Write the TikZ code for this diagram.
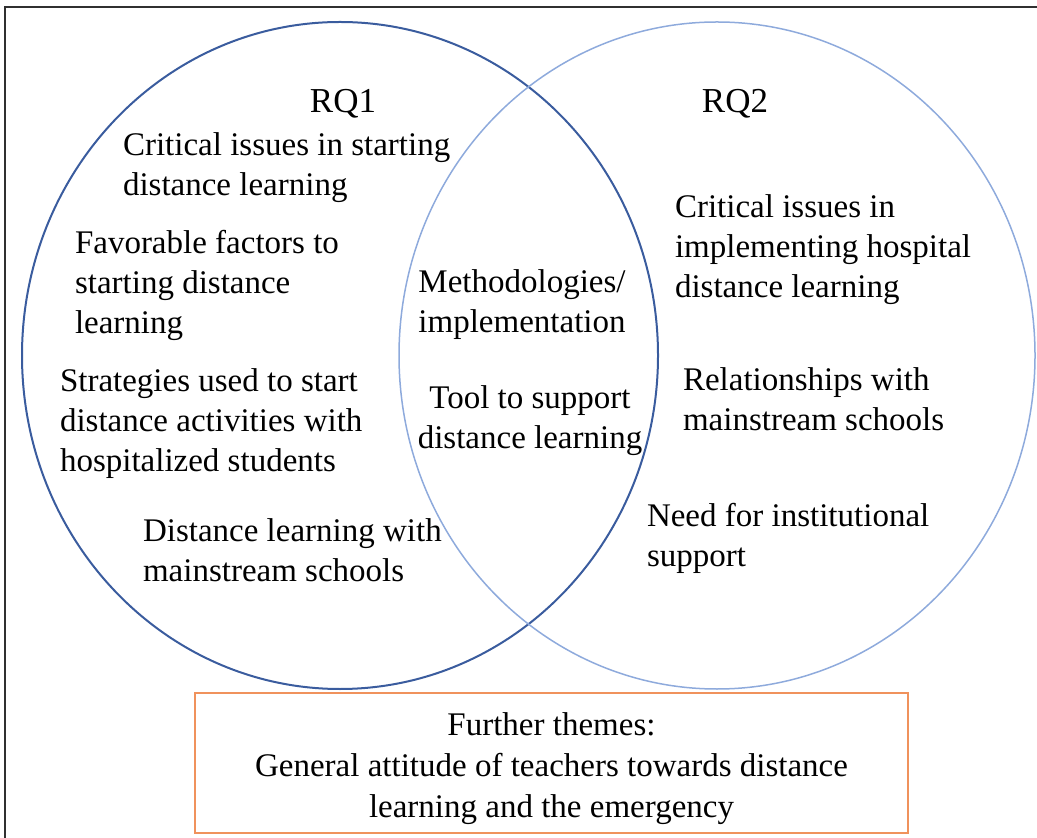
\documentclass[tikz,border=0pt]{standalone}
\usepackage{fontspec}
\setmainfont{Liberation Serif}
\definecolor{rqonecol}{HTML}{3A5C9E}
\definecolor{rqtwocol}{HTML}{8EAADC}
\definecolor{boxcol}{HTML}{F0925C}
\definecolor{framecol}{HTML}{303030}
\tikzset{
  theme/.style={font=\fontsize{16.5}{20}\selectfont, align=left,
                inner sep=0pt, outer sep=0pt, anchor=north west},
  title/.style={font=\fontsize{17.5}{20}\selectfont, inner sep=0pt},
  middle/.style={theme, align=center, anchor=north},
}

\begin{document}
\begin{tikzpicture}[x=0.5pt, y=-0.5pt]
  \clip (0,0) rectangle (1037,838);
  % outer frame, right and bottom side fall off the page
  \draw[framecol, line width=0.75pt] (5,7) rectangle (1060,860);
  % the two sets
  \draw[rqonecol, line width=1pt] (340,355.5) ellipse [x radius=318, y radius=333.5];
  \draw[rqtwocol, line width=0.75pt] (717,355.5) ellipse [x radius=318, y radius=333.5];
  % titles
  \node[title] (rq1) at (343,104) {RQ1};
  \node[title] (rq2) at (735,104) {RQ2};
  % RQ1 themes
  \node[theme] (start) at (123,133) {Critical issues in starting\\distance learning};
  \node[theme] (favor) at (75,230) {Favorable factors to\\starting distance\\learning};
  \node[theme] (strat) at (60,369) {Strategies used to start\\distance activities with\\hospitalized students};
  \node[theme] (mainone) at (143,519) {Distance learning with\\mainstream schools};
  % shared themes
  \node[middle] (method) at (522,270) {Methodologies/\\implementation};
  \node[middle] (tool) at (530,386) {Tool to support\\distance learning};
  % RQ2 themes
  \node[theme] (implem) at (675,195) {Critical issues in\\implementing hospital\\distance learning};
  \node[theme] (relat) at (683,368) {Relationships with\\mainstream schools};
  \node[theme] (need) at (647,503) {Need for institutional\\support};
  % further themes
  \node[draw=boxcol, line width=1pt, minimum width=356.5pt, minimum height=70pt,
        font=\fontsize{16.5}{20.5}\selectfont, align=center, inner sep=0pt]
        (further) at (551.5,763) {\rule{0pt}{17pt}Further themes:\\General attitude of teachers towards distance\\learning and the emergency};
\end{tikzpicture}
\end{document}
